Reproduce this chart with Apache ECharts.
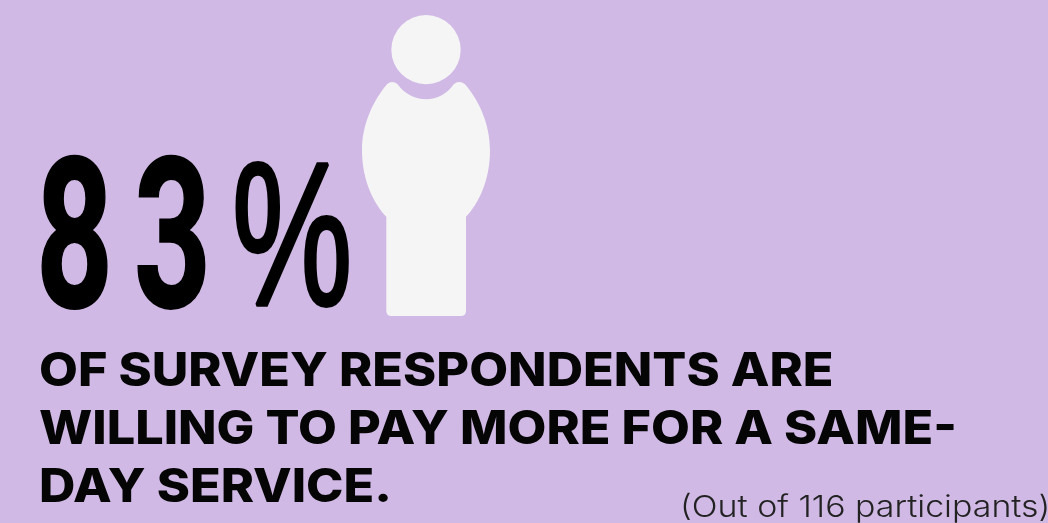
<!DOCTYPE html>
<html>
<head>
<meta charset="utf-8">
<style>html,body{margin:0;padding:0;background:#d1b9e6}#chart{width:1048px;height:523px}</style>
<script src="https://cdn.jsdelivr.net/npm/echarts@6/dist/echarts.min.js"></script>
</head>
<body>
<div id="chart"></div>
<script>
const percent = 83;
const participants = 116;
const headlineLines = ['OF SURVEY RESPONDENTS ARE', 'WILLING TO PAY MORE FOR A SAME-', 'DAY SERVICE.'];
const footnote = '(Out of ' + participants + ' participants)';
const personPath = 'path://M138 650C100 610 65 540 65 450C65 370 100 300 140 252Q155 238 172 252C190 280 225 297 257 297C290 297 322 280 340 252Q357 238 374 252C415 300 449 370 449 450C449 540 415 610 377 650L377 932Q377 948 361 948L154 948Q138 948 138 932ZM153 148A104 104 0 1 1 361 148A104 104 0 1 1 153 148Z';

// The large figure is set glyph by glyph because of its wide tracking.
const bigGlyphs = (percent + '%').split('');
const bigX = [36, 134, 232];
const bigY = [359, 359, 351];
const bigFont = ['bold 210px Roboto', 'bold 210px Roboto', 'normal 205px "Liberation Sans"'];
const bigStroke = [2, 2, 4];
const bigScale = [0.64, 0.64, 0.66];

const bigText = bigGlyphs.map((g, i) => ({
  type: 'text', x: bigX[i], y: bigY[i], scaleX: bigScale[i],
  style: { text: g, font: bigFont[i], fill: '#000', stroke: '#000', lineWidth: bigStroke[i], textVerticalAlign: 'bottom' }
}));
const bodyText = headlineLines.map((line, i) => ({
  type: 'text', x: 39, y: 349 + i * 58, scaleX: 1.095,
  style: { text: line, font: '800 46px Inter', fill: '#050505' }
}));

const chart = echarts.init(document.getElementById('chart'));
chart.setOption({
  backgroundColor: '#d1b9e6',
  animation: false,
  grid: { left: 362, top: 15, width: 128, height: 301 },
  xAxis: { type: 'category', data: ['Willing'], show: false },
  yAxis: { type: 'value', min: 0, max: percent, show: false },
  series: [{
    type: 'pictorialBar',
    data: [percent],
    symbol: personPath,
    symbolSize: ['100%', '100%'],
    symbolPosition: 'start',
    barWidth: '100%',
    itemStyle: { color: '#f5f5f5' }
  }],
  graphic: bigText.concat(bodyText, [{
    type: 'text', x: 680, y: 493, scaleX: 1.13,
    style: { text: footnote, font: '300 30px Inter', fill: '#222' }
  }])
});
</script>
</body>
</html>
